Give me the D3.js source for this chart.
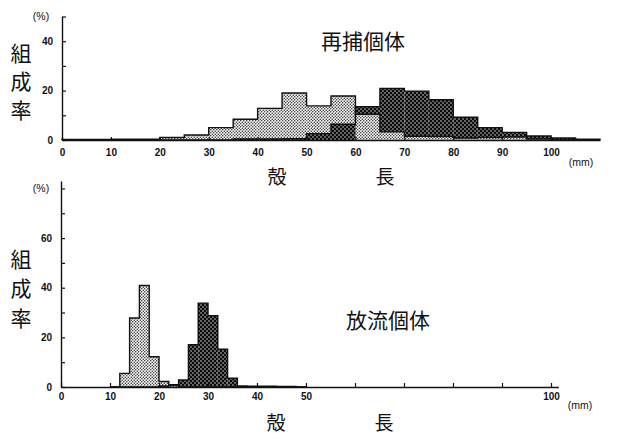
<!DOCTYPE html>
<html>
<head>
<meta charset="utf-8">
<script src="https://cdn.jsdelivr.net/npm/d3@7"></script>
<style>
body { margin: 0; background: #fff; }
svg { display: block; }
.jp { font-family: "Noto Sans CJK JP", sans-serif; fill: #111; }
.unit { font-family: "Liberation Sans", Arial, sans-serif; font-size: 10.5px; fill: #111; }
</style>
</head>
<body>
<div id="chart"></div>
<script>
// 再捕個体 : 5 mm classes
var topBins  = [0, 5, 10, 15, 20, 25, 30, 35, 40, 45, 50, 55, 60, 65, 70, 75, 80, 85, 90, 95, 100, 105];
var topLight = [0.2, 0.2, 0.3, 0.3, 1.0, 2.0, 5.0, 8.4, 12.8, 19.0, 13.8, 17.8, 10.4, 3.3, 1.5, 1.4, 0.8, 1.0, 1.2, 0.4, 0, 0];
var topDark  = [0, 0, 0, 0, 0, 0, 0, 0.4, 0.4, 0.5, 2.6, 6.4, 13.5, 20.9, 19.8, 16.3, 9.2, 5.0, 3.1, 1.6, 0.8, 0.3];

// 放流個体 : 2 mm classes
var botBins  = [10, 12, 14, 16, 18, 20, 22, 24, 26, 28, 30, 32, 34, 36, 38, 40, 42, 44, 46, 48];
var botLight = [0, 5.5, 27.8, 40.9, 12.2, 2.2, 0.6, 0, 0, 0, 0, 0, 0, 0, 0, 0, 0, 0, 0, 0];
var botDark  = [0, 0, 0, 0, 0, 0.4, 0.9, 2.8, 17.0, 33.8, 28.7, 15.2, 3.5, 0.4, 0.3, 0.3, 0.3, 0.2, 0.2, 0];

var topXTicks = [0, 10, 20, 30, 40, 50, 60, 70, 80, 90, 100];
var botXTicks = [0, 10, 20, 30, 40, 50, 60, 70, 80, 90, 100];
var botXLabels = [0, 10, 20, 30, 40, 50, 100];
var topYTicks = [0, 10, 20, 30, 40, 50];
var botYTicks = [0, 10, 20, 30, 40, 50, 60, 70, 80];

var width = 622, height = 434;

var svg = d3.select("#chart").append("svg")
    .attr("width", width)
    .attr("height", height);

svg.append("rect").attr("width", width).attr("height", height).attr("fill", "#fff");

// fill patterns : light stipple and dark screen
var defs = svg.append("defs");
var pl = defs.append("pattern").attr("id", "light")
    .attr("patternUnits", "userSpaceOnUse").attr("width", 3).attr("height", 3);
pl.append("rect").attr("width", 3).attr("height", 3).attr("fill", "#fff");
pl.append("circle").attr("cx", 0.75).attr("cy", 0.75).attr("r", 0.75).attr("fill", "#222");
pl.append("circle").attr("cx", 2.25).attr("cy", 2.25).attr("r", 0.75).attr("fill", "#222");

var pd = defs.append("pattern").attr("id", "dark")
    .attr("patternUnits", "userSpaceOnUse").attr("width", 4).attr("height", 4);
pd.append("rect").attr("width", 4).attr("height", 4).attr("fill", "#0a0a0a");
pd.append("circle").attr("cx", 1).attr("cy", 1).attr("r", 0.7).attr("fill", "#fff");
pd.append("circle").attr("cx", 3).attr("cy", 3).attr("r", 0.7).attr("fill", "#fff");

var xTop = d3.scaleLinear().domain([0, 110]).range([62, 600]);
var yTop = d3.scaleLinear().domain([0, 50]).range([140, 16.5]);
var xBot = d3.scaleLinear().domain([0, 101.5]).range([61, 61 + 101.5 * 4.9]);
var yBot = d3.scaleLinear().domain([0, 83]).range([387, 181]);

function drawPanel(bins, binW, light, dark, x, y) {
    var g = svg.append("g");

    var items = [];
    bins.forEach(function (b, i) {
        if (light[i] > 0) items.push({ b: b, v: light[i], s: "light" });
        if (dark[i] > 0) items.push({ b: b, v: dark[i], s: "dark" });
    });
    // the taller class bar goes behind, the shorter one stays visible in front
    items.sort(function (a, b) { return b.v - a.v; });

    g.selectAll(".bar").data(items).enter().append("rect")
        .attr("class", "bar")
        .attr("x", function (d) { return x(d.b); })
        .attr("width", function (d) { return x(d.b + binW) - x(d.b); })
        .attr("y", function (d) { return y(d.v); })
        .attr("height", function (d) { return y(0) - y(d.v); })
        .attr("fill", function (d) { return "url(#" + d.s + ")"; });

    // step outline of each histogram
    var line = d3.line().x(function (d) { return x(d[0]); }).y(function (d) { return y(d[1]); });
    [light, dark].forEach(function (vals) {
        var pts = [[bins[0], 0]];
        bins.forEach(function (b, i) {
            pts.push([b, vals[i]]);
            pts.push([b + binW, vals[i]]);
        });
        pts.push([bins[bins.length - 1] + binW, 0]);
        g.append("path").attr("d", line(pts))
            .attr("fill", "none")
            .attr("stroke", "#111")
            .attr("stroke-width", 1.4)
            .attr("stroke-linejoin", "miter");
    });
    return g;
}

function styleAxis(ax) {
    ax.select(".domain").attr("stroke", "#111").attr("stroke-width", 1.4);
    ax.selectAll(".tick line").attr("stroke", "#111").attr("stroke-width", 1.2);
    ax.selectAll(".tick text")
        .attr("fill", "#111")
        .style("font-family", "'Liberation Sans', Arial, sans-serif")
        .style("font-weight", "bold")
        .style("font-size", "10px");
}

// ---------- top panel ----------
drawPanel(topBins, 5, topLight, topDark, xTop, yTop);

var axT = svg.append("g").attr("transform", "translate(0," + yTop(0) + ")")
    .call(d3.axisBottom(xTop).tickValues(topXTicks).tickSizeInner(-3).tickSizeOuter(0).tickPadding(9));
styleAxis(axT);

var ayT = svg.append("g").attr("transform", "translate(" + xTop(0) + ",0)")
    .call(d3.axisLeft(yTop).tickValues(topYTicks).tickSizeInner(-4).tickSizeOuter(0).tickPadding(9)
        .tickFormat(function (d) { return d % 20 === 0 ? d : ""; }));
styleAxis(ayT);

// ---------- bottom panel ----------
drawPanel(botBins, 2, botLight, botDark, xBot, yBot);

var axB = svg.append("g").attr("transform", "translate(0," + yBot(0) + ")")
    .call(d3.axisBottom(xBot).tickValues(botXTicks).tickSizeInner(-4).tickSizeOuter(0).tickPadding(6)
        .tickFormat(function (d) { return botXLabels.indexOf(d) >= 0 ? d : ""; }));
styleAxis(axB);

var ayB = svg.append("g").attr("transform", "translate(" + xBot(0) + ",0)")
    .call(d3.axisLeft(yBot).tickValues(botYTicks).tickSizeInner(-4).tickSizeOuter(0).tickPadding(9)
        .tickFormat(function (d) { return d % 20 === 0 && d < 80 ? d : ""; }));
styleAxis(ayB);

// ---------- texts ----------
function unitText(t, xx, yy) {
    svg.append("text").attr("class", "unit")
        .attr("x", xx).attr("y", yy).attr("dy", "0.35em")
        .attr("text-anchor", "middle")
        .text(t);
}
unitText("(%)", 41, yTop(50));
unitText("(%)", 41, yBot(80));
unitText("(mm)", 581, 162);
unitText("(mm)", 580, 405);

function jp(t, xx, yy, size) {
    svg.append("text").attr("class", "jp")
        .attr("x", xx).attr("y", yy).attr("dy", "0.36em")
        .attr("text-anchor", "middle")
        .style("font-size", size + "px")
        .text(t);
}

jp("再捕個体", 363, 41, 21);
jp("放流個体", 388, 320, 21);

var yLab = ["組", "成", "率"];
yLab.forEach(function (c, i) {
    jp(c, 21, 53 + i * 28.5, 21);
    jp(c, 21, 259 + i * 29.5, 21);
});

jp("殻", 277, 177, 19);
jp("長", 385, 177, 19);
jp("殻", 276, 423, 19);
jp("長", 384, 423, 19);
</script>
</body>
</html>
